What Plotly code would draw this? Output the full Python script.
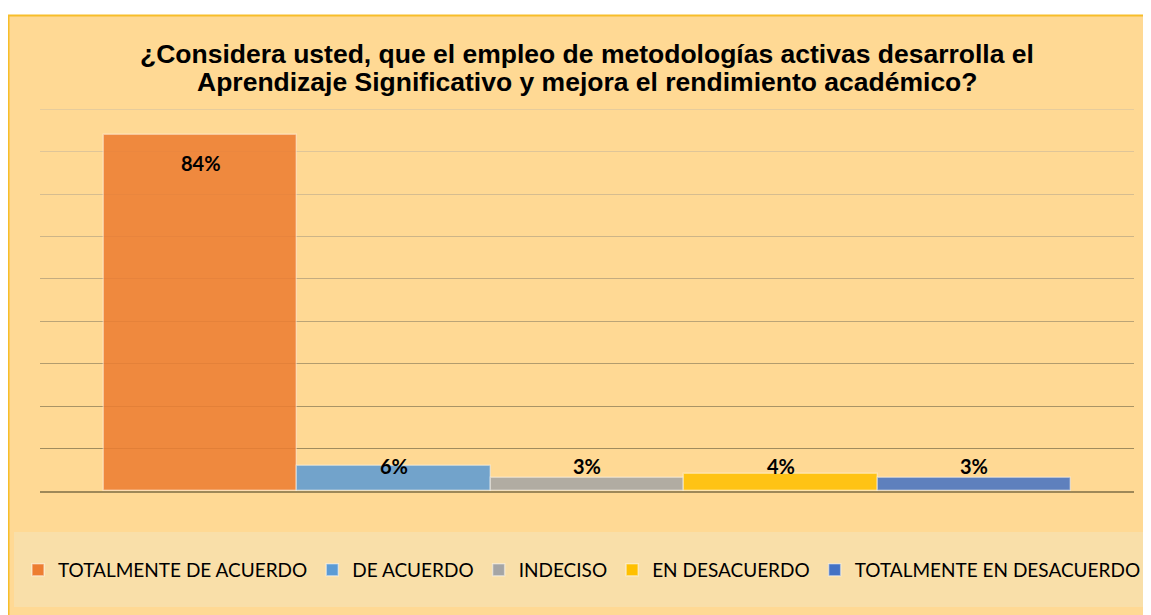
import plotly.graph_objects as go

categories = ["TOTALMENTE DE ACUERDO", "DE ACUERDO", "INDECISO", "EN DESACUERDO", "TOTALMENTE EN DESACUERDO"]
values = [84, 6, 3, 4, 3]
colors = ["#ED7D31", "#5B9BD5", "#A5A5A5", "#FFC000", "#4472C4"]
grid_vals = [10, 20, 30, 40, 50, 60, 70, 80, 90]
grid_colors = ["#A08C5E", "#A99466", "#B29C6E", "#BBA477", "#C4AC80", "#CDB588", "#D6BD90", "#DFC598", "#E6CC9C"]
title_lines = ["¿Considera usted, que el empleo de metodologías activas desarrolla el",
               "Aprendizaje Significativo y mejora el rendimiento académico?"]

# page has an 8px body margin; figure coords = page coords - 8
OFF = 8
W, H = 1151 - OFF, 615 - OFF
L, R, T, B = 32, 17, 100, 124
PW, PH = W - L - R, H - T - B


def px_x(p):
    return (p - OFF - L) / PW


def px_y(p):
    return (H - B - (p - OFF)) / PH


fig = go.Figure()
for i, (cat, v, c) in enumerate(zip(categories, values, colors)):
    fig.add_trace(go.Bar(
        x=[i], y=[v], name=cat, width=1,
        marker=dict(color=c, opacity=0.86, line=dict(color="rgba(255,255,255,0.45)", width=1.5)),
        hoverinfo="skip",
    ))

small_level = max(v for v in values if v < 50)
annotations = []
for i, v in enumerate(values):
    big = v >= 50
    annotations.append(dict(
        x=i, y=v if big else small_level, xref="x", yref="y", text=f"<b>{v}%</b>", showarrow=False,
        yanchor="middle", yshift=-28 if big else 0,
        font=dict(family="Lato", size=20, color="#000000"),
    ))

for line, base_px in zip(title_lines, [54.0, 82.0]):
    annotations.append(dict(
        x=0.5, y=px_y(base_px), xref="paper", yref="paper", text=f"<b>{line}</b>",
        showarrow=False, xanchor="center", yanchor="middle",
        font=dict(family="Liberation Sans", size=26.5, color="#000000"),
    ))

layout_axes = {}
for k, (gv, gc) in enumerate(zip(grid_vals, grid_colors)):
    layout_axes[f"yaxis{k + 2}"] = dict(
        overlaying="y", range=[0, 90.3], tickvals=[gv], showticklabels=False,
        showgrid=True, gridcolor=gc, gridwidth=1.3, zeroline=False, showline=False,
        fixedrange=True,
    )
for k in range(len(grid_vals)):
    fig.add_trace(go.Scatter(x=[None], y=[None], yaxis=f"y{k + 2}", showlegend=False, hoverinfo="skip"))

shapes = [
    dict(type="rect", xref="paper", yref="paper", layer="below",
         x0=px_x(8.5), x1=px_x(1175), y0=px_y(640), y1=px_y(15.5),
         fillcolor="#FFD994", line=dict(color="#F7BE2A", width=2)),
    dict(type="rect", xref="paper", yref="paper", layer="below",
         x0=px_x(14), x1=px_x(1175), y0=px_y(607), y1=px_y(532),
         fillcolor="#F9DFA9", line=dict(width=0)),
]

fig.update_layout(
    width=W, height=H,
    margin=dict(l=L, r=R, t=T, b=B, autoexpand=False),
    paper_bgcolor="#FFFFFF", plot_bgcolor="rgba(0,0,0,0)",
    barmode="overlay", bargap=0,
    xaxis=dict(range=[-0.831, 4.826], showticklabels=False, showgrid=False, zeroline=False,
               showline=True, linecolor="#9E8858", linewidth=1.5, ticks="", fixedrange=True),
    yaxis=dict(range=[0, 90.3], showticklabels=False, showgrid=False, zeroline=False,
               showline=False, fixedrange=True),
    showlegend=True,
    legend=dict(orientation="h", x=px_x(18), xanchor="left", y=px_y(570), yanchor="middle",
                bgcolor="rgba(0,0,0,0)", font=dict(family="Lato", size=19, color="#000000"),
                itemwidth=30, traceorder="normal"),
    shapes=shapes,
    annotations=annotations,
    **layout_axes,
)

fig.write_html("out.html")
